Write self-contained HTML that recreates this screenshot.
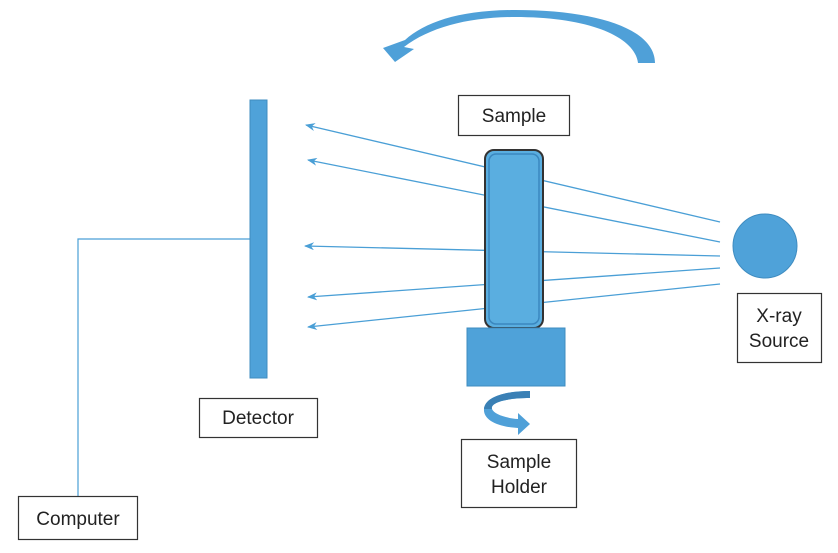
<!DOCTYPE html>
<html><head><meta charset="utf-8"><style>
html,body{margin:0;padding:0;background:#fff;}
svg{display:block;}
text{font-family:"Liberation Sans",sans-serif;font-size:19px;fill:#222;}
</style></head><body>
<svg width="838" height="553" viewBox="0 0 838 553" xmlns="http://www.w3.org/2000/svg">
<defs>
<marker id="ah" markerWidth="10" markerHeight="8" refX="9" refY="4" orient="auto" markerUnits="userSpaceOnUse">
<path d="M0,0 L10,4 L0,8 L3,4 Z" fill="#4a9fd6"/>
</marker>
</defs>
<path d="M655,63 C655,30 600,10 515,10 C460,10 425,22 405,40 L383,48 L395,62 L414,49 L404,47 C430,27 470,17 515,17 C590,17 635,37 638,63 Z" fill="#4fa0d8"/>
<g stroke="#4a9fd6" stroke-width="1.3" fill="none">
<line x1="720" y1="222" x2="306" y2="125" marker-end="url(#ah)"/>
<line x1="720" y1="242" x2="308" y2="160" marker-end="url(#ah)"/>
<line x1="720" y1="256" x2="305" y2="246" marker-end="url(#ah)"/>
<line x1="720" y1="268" x2="308" y2="297" marker-end="url(#ah)"/>
<line x1="720" y1="284" x2="308" y2="327" marker-end="url(#ah)"/>
</g>
<polyline points="250,239 78,239 78,496" fill="none" stroke="#4a9fd6" stroke-width="1.2"/>
<rect x="250" y="100" width="17" height="278" fill="#4fa2d9" stroke="#3f8cc0" stroke-width="1"/>
<rect x="485" y="150" width="58" height="178" rx="9" fill="#5aaee0" stroke="#333" stroke-width="2"/>
<rect x="489" y="154" width="50" height="170" rx="7" fill="none" stroke="#3a87bf" stroke-width="1.5"/>
<rect x="467" y="328" width="98" height="58" fill="#4fa2d9" stroke="#3f8cc0" stroke-width="1"/>
<circle cx="765" cy="246" r="32" fill="#4fa2d9" stroke="#3f8cc0" stroke-width="1"/>
<path d="M530,391 L530,398 C505,398 490,403 492,409 C494,414 505,418 518,419 L518,413 L530,424 L518,435 L518,428 C498,427 483,420 484,409 C485,397 505,391 530,391 Z" fill="#4fa0d8"/>
<path d="M530,391 C505,391 485,397 484,409 L492,409 C490,403 505,398 530,398 Z" fill="#3a80b5"/>
<g fill="#fff" stroke="#333" stroke-width="1.2">
<rect x="458.5" y="95.5" width="111" height="40"/>
<rect x="737.5" y="293.5" width="84" height="69"/>
<rect x="199.5" y="398.5" width="118" height="39"/>
<rect x="461.5" y="439.5" width="115" height="68"/>
<rect x="18.5" y="496.5" width="119" height="43"/>
</g>
<text x="514" y="122" text-anchor="middle">Sample</text>
<text x="779" y="322" text-anchor="middle">X-ray</text>
<text x="779" y="347" text-anchor="middle">Source</text>
<text x="258" y="424" text-anchor="middle">Detector</text>
<text x="519" y="468" text-anchor="middle">Sample</text>
<text x="519" y="493" text-anchor="middle">Holder</text>
<text x="78" y="525" text-anchor="middle">Computer</text>
</svg>
</body></html>
